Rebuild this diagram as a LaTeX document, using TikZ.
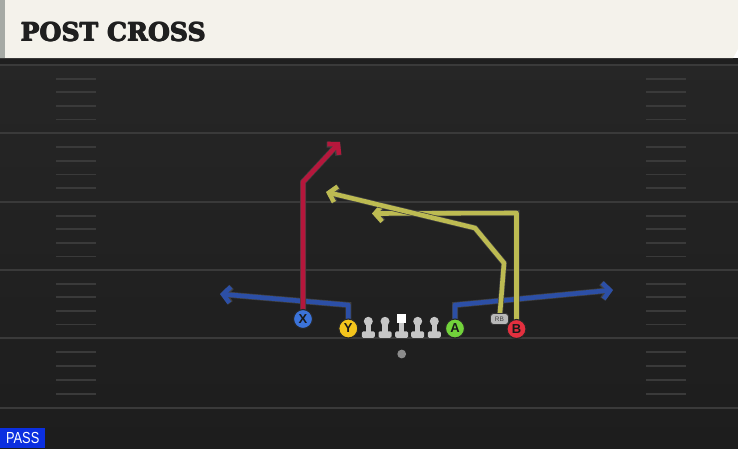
\documentclass[tikz,border=0pt]{standalone}
\usepackage{fontspec}
\setmainfont{Liberation Sans}
\newfontfamily\titlefont{DejaVu Serif Bold}
\usetikzlibrary{arrows.meta}
\pgfdeclarelayer{bg}
\pgfdeclarelayer{routes}
\pgfsetlayers{bg,routes,main}
\definecolor{fieldtop}{HTML}{262626}
\definecolor{fieldbot}{HTML}{1D1D1D}
\definecolor{yardline}{HTML}{3A3A3A}
\definecolor{headerbg}{HTML}{F4F2EB}
\definecolor{headerstrip}{HTML}{A6AAA5}
\definecolor{routered}{HTML}{B5173C}
\definecolor{routeblue}{HTML}{2C4FA6}
\definecolor{routeyellow}{HTML}{BDBB52}
\definecolor{pX}{HTML}{3B73D9}
\definecolor{pY}{HTML}{F3C41C}
\definecolor{pA}{HTML}{72D33B}
\definecolor{pB}{HTML}{E3303F}
\definecolor{lmgray}{HTML}{C6C6C6}
\definecolor{passblue}{HTML}{0B2FE0}
\newcommand\heavytext[1]{\rlap{\kern1.1pt#1}\rlap{\kern0.55pt\raisebox{0.6pt}{#1}}\rlap{\kern0.55pt\raisebox{-0.6pt}{#1}}#1\kern1.1pt}
\tikzset{
  player/.style={circle, draw=black!85, line width=1.1pt, minimum size=19pt, inner sep=0pt,
    font=\bfseries\fontsize{13}{13}\selectfont, text=black!90},
  route/.style={line width=4.6pt, line join=round,
    -{Straight Barb[length=7pt,width=16pt]},
    preaction={draw=black!75, line width=6pt}},
  hashmark/.style={draw=yardline, line width=1.8pt},
  ydline/.style={draw=yardline, line width=2pt},
  lineman/.pic={
    \fill[lmgray] (-2.6,0) rectangle (2.6,11);
    \fill[lmgray, rounded corners=1.4pt] (-6.5,10) rectangle (6.5,16.5);
    \fill[lmgray] (0,0) circle (4.5);
  },
  center/.pic={
    \fill[lmgray] (-2.6,0) rectangle (2.6,11);
    \fill[lmgray, rounded corners=1.4pt] (-6.5,10) rectangle (6.5,16.5);
    \fill[white] (-4.6,-7.2) rectangle (4.6,1.5);
  }
}
\begin{document}
\begin{tikzpicture}[x=1pt, y=-1pt]
\useasboundingbox (0,0) rectangle (738,448);
\begin{pgfonlayer}{bg}
  % field
  \shade[top color=fieldtop, bottom color=fieldbot] (0,58) rectangle (738,448);
  \fill[black!88] (0,58) rectangle (738,64);
  \foreach \yy in {65,133,202,270,338,408}
    \draw[ydline] (0,\yy) -- (738,\yy);
  \foreach \ya/\yb in {65/133,133/202,202/270,270/338,338/408}
    \foreach \k in {1,2,3,4} {
      \draw[hashmark] (56,{\ya+\k*(\yb-\ya)/5}) -- (96,{\ya+\k*(\yb-\ya)/5});
      \draw[hashmark] (646,{\ya+\k*(\yb-\ya)/5}) -- (686,{\ya+\k*(\yb-\ya)/5});
    }
  % header
  \fill[headerbg] (0,0) -- (738,0) -- (738,49) -- (733,58) -- (0,58) -- cycle;
  \fill[headerstrip] (0,0) rectangle (5,58);
\end{pgfonlayer}

\node[anchor=west, inner sep=0pt, text=black!88,
  font=\titlefont\fontsize{28}{28}\selectfont] (title) at (20,32)
  {\resizebox{186pt}{!}{\heavytext{POST CROSS}}};

% linemen and ball
\pic at (368.3,321.3) {lineman};
\pic at (385,321.3) {lineman};
\pic at (401.7,321.3) {center};
\pic at (417.7,321.3) {lineman};
\pic at (434.3,321.3) {lineman};
\fill[black!45] (401.7,354) circle (4.4);

% players
\node[player, fill=pX] (X) at (303,319) {X};
\node[player, fill=pY] (Y) at (348.3,328.5) {Y};
\node[player, fill=pA] (A) at (455,328.5) {A};
\node[player, fill=pB] (B) at (516.5,329) {B};
\node[draw=black!80, fill=black!28, rounded corners=3pt, minimum width=18pt, minimum height=11pt,
  inner sep=0pt, line width=0.9pt, font=\fontsize{6.5}{6.5}\selectfont, text=black!75] (RB) at (499.5,319) {RB};

% route end points
\coordinate (xbend) at (303,182);
\coordinate (xtip) at (340,142);
\coordinate (ybend) at (348.3,305);
\coordinate (ytip) at (220,294);
\coordinate (abend) at (455,305);
\coordinate (atip) at (613,290);
\coordinate (rb1) at (504,263);
\coordinate (rb2) at (475,228);
\coordinate (rbtip) at (326,192);
\coordinate (bbend) at (516.5,213);
\coordinate (btip) at (372,213.5);

\begin{pgfonlayer}{routes}
  \draw[route, routeblue] (Y.center) -- (ybend) -- (ytip);
  \draw[route, routeblue] (A.center) -- (abend) -- (atip);
  \draw[route, routeyellow] (B.center) -- (bbend) -- (btip);
  \draw[route, routeyellow] (RB.center) -- (rb1) -- (rb2) -- (rbtip);
  \draw[route, routered] (X.center) -- (xbend) -- (xtip);
\end{pgfonlayer}

% pass tag
\node[fill=passblue, anchor=south west, minimum width=45pt, minimum height=20pt, inner sep=0pt,
  text=white, font=\fontsize{16}{16}\selectfont] (pass) at (0,448) {\scalebox{0.8}[1]{PASS}};
\end{tikzpicture}
\end{document}
